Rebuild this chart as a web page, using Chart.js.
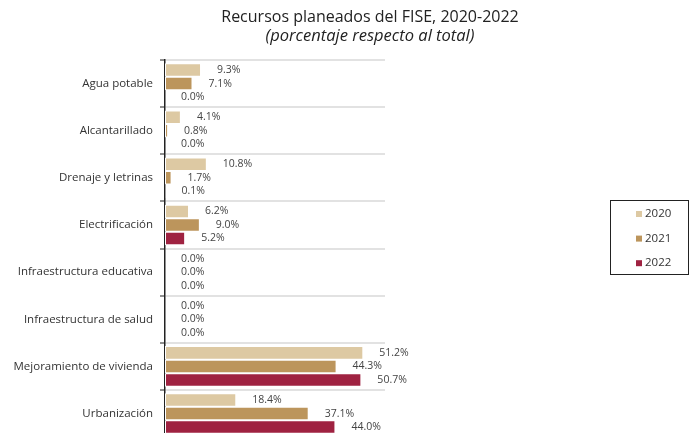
<!DOCTYPE html>
<html>
<head>
<meta charset="utf-8">
<script src="https://cdn.jsdelivr.net/npm/chart.js@4"></script>
<style>
    html, body { margin: 0; padding: 0; background: #fff; overflow: hidden; height: 433px; }
    #wrap { width: 696px; height: 451px; }
</style>
</head>
<body>
<div id="wrap"><canvas id="fise"></canvas></div>
<script>
const categories = ['Agua potable', 'Alcantarillado', 'Drenaje y letrinas', 'Electrificación',
    'Infraestructura educativa', 'Infraestructura de salud', 'Mejoramiento de vivienda', 'Urbanización'];
const years = ['2020', '2021', '2022'];
const values2020 = [9.3, 4.1, 10.8, 6.2, 0.0, 0.0, 51.2, 18.4];
const values2021 = [7.1, 0.8, 1.7, 9.0, 0.0, 0.0, 44.3, 37.1];
const values2022 = [0.0, 0.0, 0.1, 5.2, 0.0, 0.0, 50.7, 44.0];
const colors = ['#DDC9A3', '#BC955C', '#9F2241'];

const FONT = '"Open Sans", sans-serif';

// title, bar labels and boxed legend drawn by hand
const extras = {
    id: 'extras',
    afterDatasetsDraw(chart) {
        const ctx = chart.ctx;
        ctx.save();
        ctx.fillStyle = '#444';
        ctx.font = '10.5px ' + FONT;
        ctx.textAlign = 'left';
        ctx.textBaseline = 'middle';
        chart.data.datasets.forEach((ds, i) => {
            chart.getDatasetMeta(i).data.forEach((bar, j) => {
                ctx.fillText(ds.data[j].toFixed(1) + '%', bar.x + 16, bar.y);
            });
        });
        ctx.restore();
    },
    afterDraw(chart) {
        const ctx = chart.ctx;
        ctx.save();
        ctx.fillStyle = '#222';
        ctx.textAlign = 'center';
        ctx.textBaseline = 'middle';
        ctx.font = '16px ' + FONT;
        ctx.fillText('Recursos planeados del FISE, 2020-2022', 370, 17);
        ctx.font = 'italic 16.5px ' + FONT;
        ctx.fillText('(porcentaje respecto al total)', 370, 36);

        // legend
        ctx.strokeStyle = '#222';
        ctx.lineWidth = 1;
        ctx.strokeRect(610.5, 200.5, 78, 74);
        ctx.font = '11.5px ' + FONT;
        ctx.textAlign = 'left';
        years.forEach((y, i) => {
            const cy = 214 + i * 24.6;
            ctx.fillStyle = colors[i];
            ctx.fillRect(636, cy - 3, 6, 6);
            ctx.fillStyle = '#333';
            ctx.fillText(y, 645, cy);
        });
        ctx.restore();
    }
};

new Chart(document.getElementById('fise'), {
    type: 'bar',
    data: {
        labels: categories,
        datasets: [
            { label: years[0], data: values2020, backgroundColor: colors[0] },
            { label: years[1], data: values2021, backgroundColor: colors[1] },
            { label: years[2], data: values2022, backgroundColor: colors[2] }
        ]
    },
    options: {
        indexAxis: 'y',
        responsive: true,
        maintainAspectRatio: false,
        animation: false,
        datasets: {
            bar: {
                categoryPercentage: 0.86,
                barPercentage: 1.0,
                borderColor: '#fff',
                borderWidth: 1,
                borderSkipped: false
            }
        },
        layout: { padding: { top: 60, right: 311, bottom: 0, left: 0 } },
        plugins: {
            legend: { display: false },
            title: { display: false },
            tooltip: { enabled: false }
        },
        scales: {
            x: {
                display: false,
                min: 0,
                max: 56.8
            },
            y: {
                afterFit: (scale) => { scale.width = 165; },
                grid: {
                    offset: true,
                    color: '#e2e2e2',
                    lineWidth: 2,
                    tickColor: '#222',
                    tickWidth: 1,
                    tickLength: 5
                },
                border: { display: true, color: '#222', width: 1.5 },
                ticks: {
                    color: '#333',
                    padding: 7,
                    font: { family: FONT, size: 11.5 }
                }
            }
        }
    },
    plugins: [extras]
});
</script>
</body>
</html>
